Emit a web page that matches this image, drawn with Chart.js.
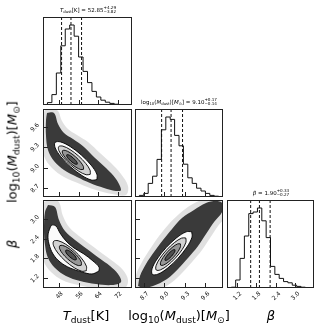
<!DOCTYPE html>
<html>
<head>
<meta charset="utf-8">
<script src="https://cdn.jsdelivr.net/npm/chart.js@4.4.1/dist/chart.umd.min.js"></script>
<style>
  html, body { margin: 0; padding: 0; background: #fff; }
  #wrap { position: relative; width: 332px; height: 332px; overflow: hidden; background: #fff;
          font-family: "DejaVu Sans", sans-serif; color: #000; }
  #wrap canvas { position: absolute; left: 0; top: 0; }
  .lbl { position: absolute; white-space: nowrap; line-height: 1; font-size: 13px; will-change: transform; }
  .lbl sub { font-size: 0.7em; vertical-align: -0.3em; line-height: 0; }
  .ttl { position: absolute; white-space: nowrap; font-size: 5.5px; line-height: 1; color: #000;
         transform: translate(-50%, -100%); will-change: transform; }
  .ttl sub { font-size: 0.7em; vertical-align: -0.3em; line-height: 0; }
  .ss { display: inline-flex; flex-direction: column; font-size: 0.75em; line-height: 1.05;
        vertical-align: middle; }
</style>
</head>
<body>
<div id="wrap">
  <div class="ttl" style="left:87.5px;top:15px"><i>T</i><sub>dust</sub>[K] = 52.85<span class="ss"><span>+4.29</span><span>−3.82</span></span></div>
  <div class="ttl" style="left:179px;top:107px">log<sub>10</sub>(<i>M</i><sub>dust</sub>)[<i>M</i><sub>⊙</sub>] = 9.10<span class="ss"><span>+0.17</span><span>−0.14</span></span></div>
  <div class="ttl" style="left:270.5px;top:198px"><i>β</i> = 1.90<span class="ss"><span>+0.33</span><span>−0.27</span></span></div>

  <div class="lbl" style="left:86px;top:309px;transform:translateX(-50%)"><i>T</i><sub>dust</sub>[K]</div>
  <div class="lbl" style="left:179px;top:309px;transform:translateX(-50%)">log<sub>10</sub>(<i>M</i><sub>dust</sub>)[<i>M</i><sub>⊙</sub>]</div>
  <div class="lbl" style="left:270.5px;top:309px;transform:translateX(-50%)"><i>β</i></div>

  <div class="lbl" style="left:12px;top:152px;transform:translate(-50%,-50%) rotate(-90deg)">log<sub>10</sub>(<i>M</i><sub>dust</sub>)[<i>M</i><sub>⊙</sub>]</div>
  <div class="lbl" style="left:12px;top:244px;transform:translate(-50%,-50%) rotate(-90deg)"><i>β</i></div>
</div>
<script>
// parameter ranges and ticks
const T_RANGE = [41.5, 77.6];
const M_RANGE = [8.565, 9.87];
const B_RANGE = [0.9, 3.583];
const T_TICKS = [48, 56, 64, 72];
const M_TICKS = [8.7, 9.0, 9.3, 9.6];
const B_TICKS = [1.2, 1.8, 2.4, 3.0];
const T_TICK_LABELS = ['48', '56', '64', '72'];
const M_TICK_LABELS = ['8.7', '9.0', '9.3', '9.6'];
const B_TICK_LABELS = ['1.2', '1.8', '2.4', '3.0'];

// 1d histograms (20 bins, relative counts)
const T_HIST = [0, 0.03, 0.13, 0.40, 0.74, 0.95, 1.0, 0.86, 0.60, 0.42, 0.28, 0.17, 0.10, 0.06, 0.035, 0.02, 0.01, 0.005, 0, 0];
const M_HIST = [0, 0.02, 0.045, 0.17, 0.26, 0.47, 0.84, 1.0, 0.97, 0.77, 0.64, 0.41, 0.24, 0.17, 0.11, 0.075, 0.045, 0.02, 0.01, 0];
const B_HIST = [0, 0.01, 0.10, 0.37, 0.65, 0.93, 0.95, 1.0, 0.84, 0.63, 0.27, 0.17, 0.12, 0.08, 0.065, 0.035, 0.02, 0.01, 0.005, 0];

// 16 / 50 / 84 % quantiles
const T_QUANT = [49.03, 52.85, 57.14];
const M_QUANT = [8.96, 9.10, 9.27];
const B_QUANT = [1.63, 1.90, 2.23];

// T vs log M : sample cloud envelopes and density contours
const TM_SPARSE = [[42.31,9.856],[47.18,9.856],[49.21,9.693],[51.64,9.574],[55.29,9.485],[59.76,9.381],[64.62,9.218],[69.09,9.069],[73.14,8.906],[75.98,8.728],[75.17,8.595],[69.49,8.610],[63.00,8.669],[56.51,8.758],[50.02,8.862],[45.15,8.995],[41.91,9.173],[41.50,9.411],[41.50,9.782]];
const TM_DENSE = [[43.12,9.811],[45.96,9.811],[47.59,9.648],[50.02,9.515],[53.67,9.426],[58.13,9.307],[62.60,9.144],[67.06,8.995],[71.11,8.832],[73.14,8.669],[71.11,8.654],[66.25,8.699],[60.57,8.773],[55.29,8.862],[50.02,8.966],[45.96,9.099],[43.53,9.262],[42.72,9.470],[42.72,9.707]];
const TM_L4 = [[63.40,8.824],[61.18,8.816],[57.28,8.884],[52.74,9.010],[48.77,9.160],[46.45,9.293],[46.38,9.374],[48.60,9.382],[52.50,9.314],[57.04,9.188],[61.01,9.038],[63.33,8.905]];
const TM_L3 = [[60.66,8.901],[59.00,8.895],[56.07,8.946],[52.67,9.040],[49.69,9.153],[47.95,9.253],[47.90,9.313],[49.56,9.319],[52.49,9.268],[55.89,9.174],[58.87,9.061],[60.61,8.961]];
const TM_L2 = [[57.93,8.976],[56.82,8.972],[54.87,9.006],[52.59,9.069],[50.61,9.145],[49.45,9.211],[49.41,9.252],[50.52,9.256],[52.47,9.222],[54.75,9.159],[56.73,9.083],[57.89,9.017]];
const TM_L1 = [[55.39,9.052],[54.83,9.050],[53.86,9.067],[52.72,9.099],[51.73,9.136],[51.15,9.170],[51.13,9.190],[51.69,9.192],[52.66,9.175],[53.80,9.143],[54.79,9.106],[55.37,9.072]];

// T vs beta
const TB_SPARSE = [[42.72,3.552],[47.59,3.552],[49.61,3.095],[52.05,2.760],[56.10,2.485],[60.97,2.211],[65.84,1.937],[70.30,1.693],[73.95,1.449],[75.98,1.144],[74.77,0.900],[68.68,0.870],[62.19,0.900],[55.70,0.991],[49.21,1.144],[44.75,1.388],[41.91,1.693],[41.09,2.211],[41.09,2.821],[41.50,3.491]];
const TB_DENSE = [[43.53,3.430],[46.37,3.370],[47.99,2.973],[50.42,2.638],[54.48,2.363],[59.35,2.089],[64.22,1.815],[68.68,1.571],[71.93,1.327],[73.14,1.083],[69.49,0.991],[63.00,1.022],[56.51,1.113],[50.83,1.266],[46.37,1.510],[43.53,1.815],[42.31,2.211],[41.91,2.668],[42.31,3.217]];
const TB_L4 = [[64.22,1.418],[61.38,1.327],[57.32,1.388],[52.45,1.510],[48.40,1.693],[45.56,1.937],[43.93,2.241],[43.53,2.516],[44.34,2.729],[45.15,2.821],[46.77,2.790],[48.40,2.577],[50.83,2.333],[54.08,2.120],[58.13,1.937],[61.78,1.723],[64.22,1.540]];
const TB_L3 = [[59.08,1.427],[57.27,1.410],[54.17,1.518],[50.60,1.722],[47.54,1.967],[45.79,2.188],[45.82,2.325],[47.63,2.342],[50.73,2.234],[54.30,2.030],[57.36,1.785],[59.11,1.564]];
const TB_L2 = [[57.03,1.595],[55.83,1.584],[53.79,1.655],[51.44,1.789],[49.41,1.950],[48.26,2.096],[48.29,2.187],[49.49,2.198],[51.53,2.127],[53.88,1.993],[55.91,1.832],[57.06,1.686]];
const TB_L1 = [[54.97,1.763],[54.37,1.756],[53.38,1.790],[52.24,1.854],[51.27,1.932],[50.72,2.004],[50.75,2.049],[51.35,2.056],[52.34,2.022],[53.48,1.958],[54.45,1.880],[55.00,1.808]];

// log M vs beta
const MB_SPARSE = [[8.550,0.839],[8.580,1.296],[8.669,1.693],[8.788,2.089],[8.921,2.485],[9.055,2.821],[9.218,3.156],[9.396,3.430],[9.589,3.613],[9.767,3.674],[9.915,3.644],[9.915,3.126],[9.796,2.790],[9.678,2.424],[9.559,2.059],[9.411,1.693],[9.262,1.357],[9.099,1.052],[8.891,0.839]];
const MB_DENSE = [[8.610,0.961],[8.639,1.266],[8.728,1.632],[8.847,1.998],[8.980,2.363],[9.114,2.699],[9.262,3.034],[9.440,3.278],[9.618,3.491],[9.767,3.552],[9.856,3.491],[9.856,3.217],[9.737,2.912],[9.618,2.546],[9.500,2.180],[9.351,1.815],[9.203,1.479],[9.040,1.174],[8.832,0.961],[8.684,0.900]];
const MB_L4 = [[9.406,2.617],[9.410,2.447],[9.335,2.149],[9.201,1.802],[9.044,1.499],[8.905,1.322],[8.822,1.317],[8.818,1.487],[8.893,1.785],[9.027,2.132],[9.184,2.435],[9.323,2.612]];
const MB_L3 = [[9.318,2.425],[9.321,2.297],[9.265,2.074],[9.164,1.813],[9.046,1.586],[8.942,1.453],[8.880,1.449],[8.877,1.577],[8.933,1.800],[9.034,2.061],[9.152,2.288],[9.256,2.421]];
const MB_L2 = [[9.238,2.246],[9.240,2.161],[9.203,2.012],[9.136,1.838],[9.057,1.687],[8.987,1.598],[8.946,1.596],[8.944,1.681],[8.981,1.830],[9.048,2.004],[9.127,2.155],[9.197,2.244]];
const MB_L1 = [[9.157,2.069],[9.158,2.026],[9.139,1.952],[9.106,1.865],[9.066,1.789],[9.032,1.745],[9.011,1.743],[9.010,1.786],[9.029,1.860],[9.062,1.947],[9.102,2.023],[9.136,2.067]];

// panel rectangles in page pixels
const COLS = [[43, 132], [135, 223], [227, 314]];
const ROWS = [[17, 105], [109, 197], [200, 288]];

const cornerAxes = {
  id: 'cornerAxes',
  afterDatasetsDraw(chart, args, opts) {
    const { ctx, chartArea: a } = chart;
    const xs = chart.scales.x;
    const ys = chart.scales.y;
    ctx.save();
    ctx.strokeStyle = '#222';
    ctx.lineWidth = 1;
    ctx.strokeRect(a.left + 0.5, a.top + 0.5, a.width - 1, a.height - 1);
    ctx.font = '6px "DejaVu Sans"';
    ctx.fillStyle = '#111';
    ctx.textAlign = 'center';
    ctx.textBaseline = 'middle';
    (opts.xTicks || []).forEach((v, i) => {
      const px = Math.round(xs.getPixelForValue(v)) + 0.5;
      ctx.beginPath();
      ctx.moveTo(px, a.bottom);
      ctx.lineTo(px, a.bottom - 5);
      ctx.stroke();
      if (opts.xLabels) {
        const t = opts.xLabels[i];
        const box = (ctx.measureText(t).width + 4.5) * Math.SQRT1_2;
        ctx.save();
        ctx.translate(px, a.bottom + 3 + box / 2);
        ctx.rotate(-Math.PI / 4);
        ctx.fillText(t, 0, 0);
        ctx.restore();
      }
    });
    (opts.yTicks || []).forEach((v, i) => {
      const py = Math.round(ys.getPixelForValue(v)) + 0.5;
      ctx.beginPath();
      ctx.moveTo(a.left, py);
      ctx.lineTo(a.left + 5, py);
      ctx.stroke();
      if (opts.yLabels) {
        const t = opts.yLabels[i];
        const box = (ctx.measureText(t).width + 4.5) * Math.SQRT1_2;
        ctx.save();
        ctx.translate(a.left - 3 - box / 2, py);
        ctx.rotate(-Math.PI / 4);
        ctx.fillText(t, 0, 0);
        ctx.restore();
      }
    });
    ctx.restore();
  },
};

function shape(points, fill, line) {
  return {
    data: points.concat([points[0]]).map(([x, y]) => ({ x, y })),
    showLine: true,
    fill: 'shape',
    backgroundColor: fill,
    borderColor: line || 'rgba(0,0,0,0)',
    borderWidth: line ? 0.9 : 0,
    tension: 0.35,
    capBezierPoints: false,
    pointRadius: 0,
  };
}

function histPoints(range, counts) {
  const w = (range[1] - range[0]) / counts.length;
  const pts = [{ x: range[0], y: 0 }];
  counts.forEach((c, i) => pts.push({ x: range[0] + i * w, y: c }));
  pts.push({ x: range[1], y: counts[counts.length - 1] }, { x: range[1], y: 0 });
  return pts;
}

function makePanel(col, row, xRange, yRange, datasets, axes) {
  const canvas = document.createElement('canvas');
  canvas.width = 332;
  canvas.height = 332;
  document.getElementById('wrap').appendChild(canvas);
  const c = COLS[col];
  const r = ROWS[row];
  // first entry is the bottom layer
  datasets.forEach((d, i) => { d.order = datasets.length - i; });
  return new Chart(canvas.getContext('2d'), {
    type: 'scatter',
    data: { datasets },
    options: {
      responsive: false,
      animation: false,
      devicePixelRatio: 1,
      events: [],
      layout: { padding: { left: c[0], right: 332 - c[1], top: r[0], bottom: 332 - r[1] } },
      scales: {
        x: { type: 'linear', min: xRange[0], max: xRange[1], display: false },
        y: { type: 'linear', min: yRange[0], max: yRange[1], display: false },
      },
      plugins: { legend: { display: false }, tooltip: { enabled: false }, cornerAxes: axes },
    },
    plugins: [cornerAxes],
  });
}

function histPanel(col, row, range, counts, quant, axes) {
  const top = Math.max(...counts) * 1.1;
  const datasets = [{
    data: histPoints(range, counts),
    showLine: true, stepped: true, fill: false,
    borderColor: '#111', borderWidth: 1, pointRadius: 0,
  }];
  quant.forEach((q) => datasets.push({
    data: [{ x: q, y: 0 }, { x: q, y: top }],
    showLine: true, fill: false, borderColor: '#111', borderWidth: 1,
    borderDash: [3, 2], pointRadius: 0,
  }));
  makePanel(col, row, range, [0, top], datasets, axes);
}

function densityPanel(col, row, xRange, yRange, sets, axes) {
  const [sparse, dense, l4, l3, l2, l1] = sets;
  makePanel(col, row, xRange, yRange, [
    shape(sparse, 'rgba(0,0,0,0.12)'),
    shape(dense, 'rgba(10,10,10,0.78)'),
    shape(l4, '#fbfbfb', '#000'),
    shape(l3, '#d2d2d2', '#000'),
    shape(l2, '#969696', '#000'),
    shape(l1, '#505050', '#000'),
  ], axes);
}

histPanel(0, 0, T_RANGE, T_HIST, T_QUANT, { xTicks: T_TICKS });
histPanel(1, 1, M_RANGE, M_HIST, M_QUANT, { xTicks: M_TICKS });
histPanel(2, 2, B_RANGE, B_HIST, B_QUANT, { xTicks: B_TICKS, xLabels: B_TICK_LABELS });

densityPanel(0, 1, T_RANGE, M_RANGE, [TM_SPARSE, TM_DENSE, TM_L4, TM_L3, TM_L2, TM_L1],
  { xTicks: T_TICKS, yTicks: M_TICKS, yLabels: M_TICK_LABELS });
densityPanel(0, 2, T_RANGE, B_RANGE, [TB_SPARSE, TB_DENSE, TB_L4, TB_L3, TB_L2, TB_L1],
  { xTicks: T_TICKS, xLabels: T_TICK_LABELS, yTicks: B_TICKS, yLabels: B_TICK_LABELS });
densityPanel(1, 2, M_RANGE, B_RANGE, [MB_SPARSE, MB_DENSE, MB_L4, MB_L3, MB_L2, MB_L1],
  { xTicks: M_TICKS, xLabels: M_TICK_LABELS, yTicks: B_TICKS });
</script>
</body>
</html>
